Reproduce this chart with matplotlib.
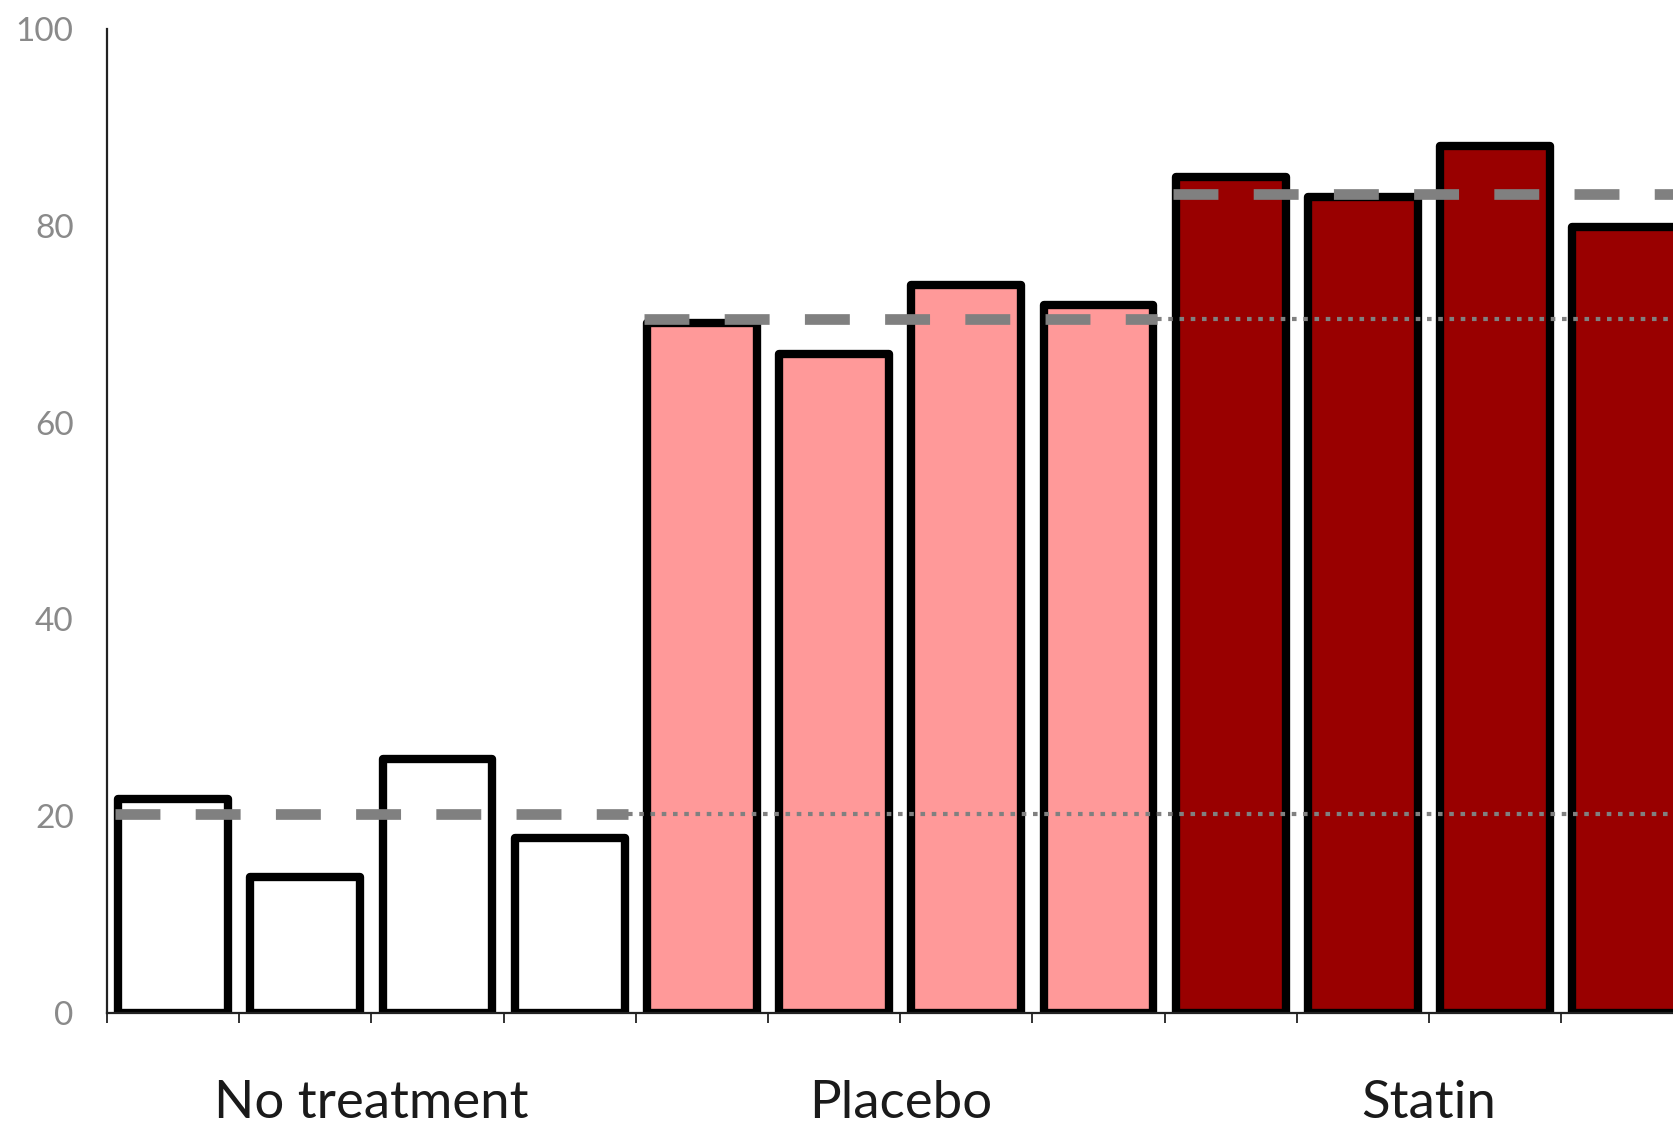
import matplotlib
matplotlib.use("Agg")
import matplotlib.pyplot as plt
import numpy as np

# ---- data ----
groups = ["No treatment", "Placebo", "Statin"]
no_treatment = [21.7, 13.8, 25.8, 17.8]
placebo = [70.1, 67.0, 74.0, 72.0]
statin = [85.0, 82.9, 88.1, 79.9]
group_means = [20.2, 70.5, 83.2]
group_colors = ["#FFFFFF", "#FF9999", "#990000"]
yticks = [0, 20, 40, 60, 80, 100]

series = [no_treatment, placebo, statin]

fig = plt.figure(figsize=(16.74, 11.21), dpi=100)
W, H = 1674, 1121
left_px, bottom_px, top_px = 107, 1013, 29
cat_px = 132.2
n_bars = sum(len(s) for s in series)
ax = fig.add_axes([left_px / W, (H - bottom_px) / H, n_bars * cat_px / W, (bottom_px - top_px) / H])

bar_w = 0.83
pos = 0
for gi, vals in enumerate(series):
    xs = np.arange(pos, pos + len(vals)) + 0.5
    ax.bar(xs, vals, width=bar_w, color=group_colors[gi], edgecolor="black",
           linewidth=6.0, zorder=2, joinstyle="round")
    g_start = pos + 0.06
    g_end = pos + len(vals) - 0.06
    ax.plot([g_start, g_end], [group_means[gi]] * 2, color="#808080", linewidth=7.7,
            dashes=(4.2, 3.3), dash_capstyle="butt", solid_capstyle="butt", zorder=4)
    if pos + len(vals) < n_bars:
        ax.plot([g_end, n_bars], [group_means[gi]] * 2, color="#808080", linewidth=3.0,
                dashes=(1.1, 1.6), dash_capstyle="butt", zorder=4)
    ax.annotate(groups[gi], xy=(pos + len(vals) / 2, 0), xycoords=("data", "axes fraction"),
                xytext=(0, -75.6), textcoords="offset points", ha="center", va="baseline",
                fontsize=38, color="#1a1a1a", family="Lato")
    pos += len(vals)

ax.set_xlim(0, n_bars)
ax.set_ylim(0, 100)
ax.set_xticks(np.arange(0, n_bars + 1))
ax.set_xticklabels([])
ax.tick_params(axis="x", direction="out", length=7, width=1.3, color="#222222")
ax.set_yticks(yticks)
ax.set_yticklabels([str(v) for v in yticks], fontsize=24, color="#8a8a8a", family="Lato")
ax.tick_params(axis="y", length=0, pad=24)

for s in ["top", "right"]:
    ax.spines[s].set_visible(False)
ax.spines["left"].set_linewidth(1.6)
ax.spines["left"].set_color("#222222")
ax.spines["bottom"].set_linewidth(1.6)
ax.spines["bottom"].set_color("#222222")

fig.savefig("out.png", dpi=100)
